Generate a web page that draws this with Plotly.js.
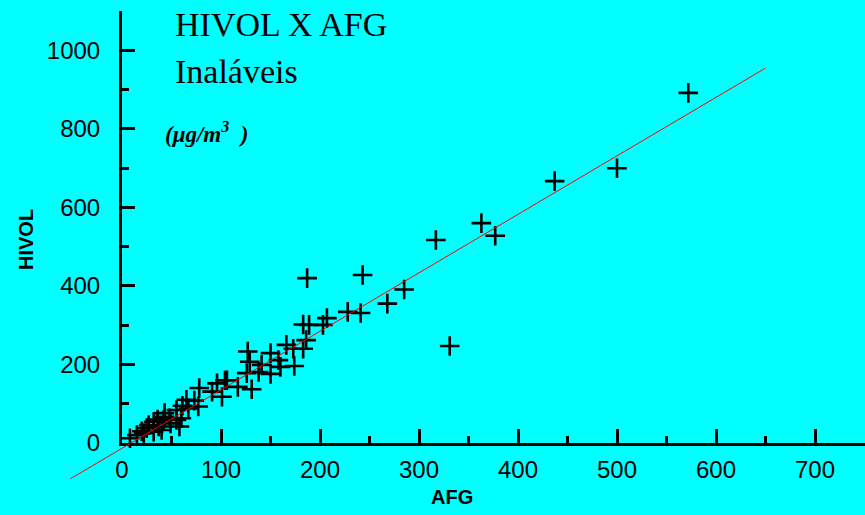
<!DOCTYPE html>
<html>
<head>
<meta charset="utf-8">
<script src="https://cdn.plot.ly/plotly-3.0.1.min.js"></script>
<style>html,body{margin:0;padding:0;background:#00FFFF;}#chart{width:865px;height:515px;}</style>
</head>
<body>
<div id="chart"></div>
<script>
// AFG (x) vs HIVOL (y), inhalable particles, µg/m³
const afg = [572, 500, 437, 363, 377, 317, 331, 243, 187, 285, 268, 241, 228, 207, 203, 189, 183, 186,
  166, 173, 183, 174, 150, 158, 160, 141, 150, 138, 127, 129, 126, 106, 96, 104, 117, 131, 78, 91, 101,
  65, 73, 61, 77, 67, 55, 43, 42, 55, 60, 32, 27, 37, 40, 32, 22, 15, 25, 8, 43, 48, 58, 49, 36, 20];
const hivol = [892, 700, 667, 560, 528, 517, 247, 428, 420, 391, 355, 331, 334, 318, 301, 301, 302, 262,
  250, 240, 240, 196, 229, 211, 194, 199, 176, 181, 233, 207, 178, 160, 152, 160, 143, 137, 140, 131, 118,
  110, 108, 95, 93, 88, 84, 76, 59, 59, 63, 54, 46, 42, 33, 29, 25, 20, 38, 12, 67, 63, 42, 50, 60, 30];
// regression line end points
const fitX = [-52, 650];
const fitY = [-91, 955];
const xTicks = [0, 100, 200, 300, 400, 500, 600, 700];
const yTicks = [0, 200, 400, 600, 800, 1000];

const W = 865, H = 515;
const L = 122, R = 865, T = 11, B = 443;   // plot frame in pixels
const xRange = [0, 750.5], yRange = [0, 1100.5];
const xs = (xRange[1] - xRange[0]) / (R - L);
const ys = (yRange[1] - yRange[0]) / (B - T);
const x2Range = [xRange[0] - L * xs, xRange[1] + (W - R) * xs];
const y2Range = [yRange[0] - (H - B) * ys, yRange[1] + T * ys];

const tickFont = {family: 'Liberation Sans, Arial, sans-serif', size: 24, color: '#000'};

const traces = [
  {x: afg, y: hivol, type: 'scatter', mode: 'markers', xaxis: 'x', yaxis: 'y',
   marker: {symbol: 'cross-thin-open', size: 14, color: '#000', line: {width: 2.6, color: '#000'}},
   cliponaxis: false, hoverinfo: 'x+y'},
  {x: fitX, y: fitY, type: 'scatter', mode: 'lines', xaxis: 'x2', yaxis: 'y2',
   line: {color: '#FF0000', width: 1}, hoverinfo: 'skip'}
];

const layout = {
  width: W, height: H,
  margin: {l: 0, r: 0, t: 0, b: 0, pad: 0},
  paper_bgcolor: '#00FFFF', plot_bgcolor: 'rgba(0,0,0,0)',
  showlegend: false,
  xaxis: {domain: [L / W, R / W], range: xRange, anchor: 'y',
    showline: true, linecolor: '#000', linewidth: 3, mirror: false,
    showgrid: false, zeroline: false,
    tickmode: 'array', tickvals: xTicks, ticktext: xTicks.map(String),
    ticks: 'inside', ticklen: 14, tickwidth: 3, tickcolor: '#000',
    minor: {ticks: 'inside', ticklen: 7, tickwidth: 3, tickcolor: '#000', dtick: 50, tick0: 0, showgrid: false},
    tickfont: tickFont, ticklabelstandoff: 3},
  yaxis: {domain: [(H - B) / H, (H - T) / H], range: yRange, anchor: 'x',
    showline: true, linecolor: '#000', linewidth: 3, mirror: false,
    showgrid: false, zeroline: false,
    tickmode: 'array', tickvals: yTicks, ticktext: yTicks.map(String),
    ticks: 'inside', ticklen: 13, tickwidth: 3, tickcolor: '#000',
    minor: {ticks: 'inside', ticklen: 7, tickwidth: 3, tickcolor: '#000', dtick: 100, tick0: 0, showgrid: false},
    tickfont: tickFont, ticklabelstandoff: 14},
  xaxis2: {domain: [0, 1], range: x2Range, anchor: 'y2', visible: false, showgrid: false, zeroline: false},
  yaxis2: {domain: [0, 1], range: y2Range, anchor: 'x2', visible: false, showgrid: false, zeroline: false},
  annotations: [
    {text: 'HIVOL X AFG', xref: 'paper', yref: 'paper', x: 173 / W, y: 1 - 24 / H, xanchor: 'left', yanchor: 'middle',
     showarrow: false, font: {family: 'Liberation Serif, Times New Roman, serif', size: 34, color: '#000'}},
    {text: 'Inaláveis', xref: 'paper', yref: 'paper', x: 173 / W, y: 1 - 71 / H, xanchor: 'left', yanchor: 'middle',
     showarrow: false, font: {family: 'Liberation Serif, Times New Roman, serif', size: 34, color: '#000'}},
    {text: '<b><i>(μg/m<sup>3</sup>  )</i></b>', xref: 'paper', yref: 'paper', x: 163 / W, y: 1 - 132 / H, xanchor: 'left', yanchor: 'middle',
     showarrow: false, font: {family: 'Liberation Serif, Times New Roman, serif', size: 23, color: '#000'}},
    {text: '<b>AFG</b>', xref: 'paper', yref: 'paper', x: 452 / W, y: 1 - 497 / H, xanchor: 'center', yanchor: 'middle',
     showarrow: false, font: {family: 'Liberation Sans, Arial, sans-serif', size: 20, color: '#000'}},
    {text: '<b>HIVOL</b>', xref: 'paper', yref: 'paper', x: 26 / W, y: 1 - 240 / H, xanchor: 'center', yanchor: 'middle',
     textangle: -90, showarrow: false, font: {family: 'Liberation Sans, Arial, sans-serif', size: 20, color: '#000'}}
  ]
};

Plotly.newPlot('chart', traces, layout, {displayModeBar: false, staticPlot: true});
</script>
</body>
</html>
